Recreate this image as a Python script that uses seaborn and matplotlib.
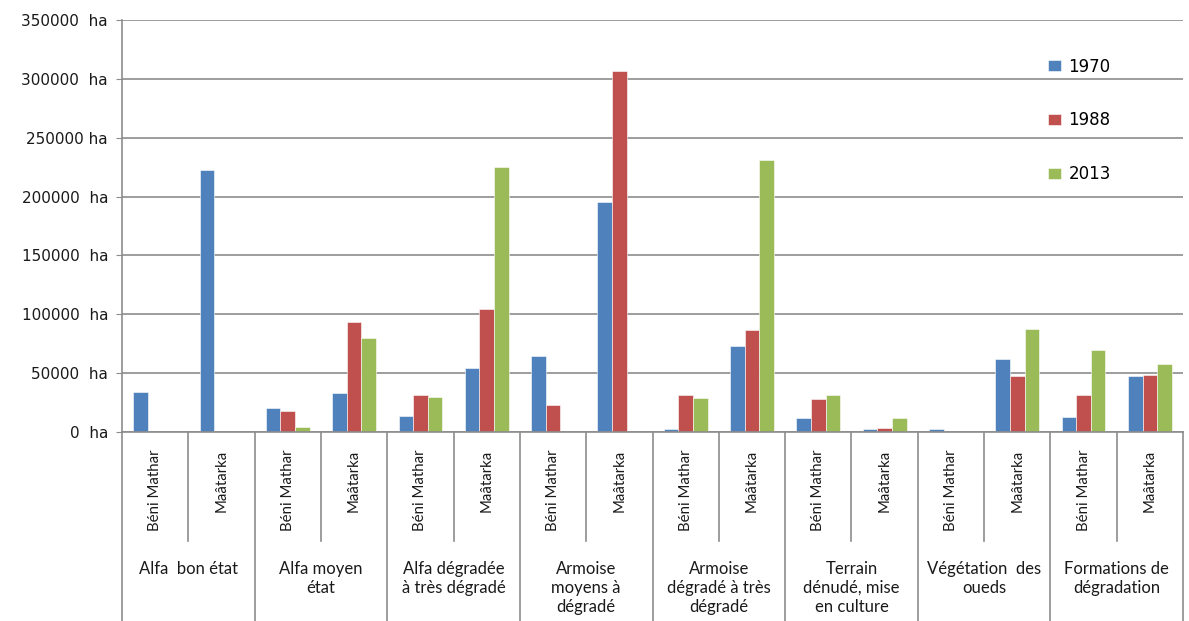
import matplotlib
matplotlib.use("Agg")
import matplotlib.pyplot as plt
import matplotlib.transforms as mtransforms
import pandas as pd
import seaborn as sns

# Land cover classes (multi-level x axis) and the two sites in each
groups = [
    "Alfa  bon état",
    "Alfa moyen\nétat",
    "Alfa dégradée\nà très dégradé",
    "Armoise\nmoyens à\ndégradé",
    "Armoise\ndégradé à très\ndégradé",
    "Terrain\ndénudé, mise\nen culture",
    "Végétation  des\noueds",
    "Formations de\ndégradation",
]
sites = ["Béni Mathar", "Maâtarka"]
years = ["1970", "1988", "2013"]

# surface in ha, one value per (class, site) slot
ha_1970 = [34000, 223000, 20000, 32800, 13800, 54800, 65000, 195800,
           2200, 72700, 11900, 2200, 2200, 62000, 13000, 47500]
ha_1988 = [0, 0, 17800, 93600, 31700, 104100, 23200, 307000,
           31700, 86300, 27700, 3400, 0, 47500, 31700, 48700]
ha_2013 = [0, 0, 4500, 80000, 29700, 225000, 0, 0,
           28500, 231400, 31700, 11900, 0, 87400, 69600, 58000]

ytick_values = [0, 50000, 100000, 150000, 200000, 250000, 300000, 350000]
ytick_labels = ["0  ha", "50000  ha", "100000  ha", "150000  ha",
                "200000  ha", "250000 ha", "300000  ha", "350000  ha"]

colors = ["#4F81BD", "#C0504D", "#9BBB59"]
grid_color = "#8c8c8c"

slots = [f"{g}|{s}" for g in groups for s in sites]
rows = []
for year, vals in zip(years, [ha_1970, ha_1988, ha_2013]):
    for slot, v in zip(slots, vals):
        rows.append({"slot": slot, "year": year, "ha": v})
df = pd.DataFrame(rows)

fig = plt.figure(figsize=(11.89, 6.21), dpi=100)
ax = fig.add_axes([0.1026, 0.3043, 0.8924, 0.6635])

sns.barplot(data=df, x="slot", y="ha", hue="year", order=slots,
            hue_order=years, palette=colors, saturation=1, width=0.66,
            gap=0, edgecolor="white", linewidth=0.4, ax=ax)

ax.set_xlim(-0.5, len(slots) - 0.5)
ax.set_ylim(0, 350000)
ax.set_xlabel("")
ax.set_ylabel("")
ax.tick_params(axis="x", length=0, labelbottom=False)
ax.set_yticks(ytick_values)
ax.set_yticklabels(ytick_labels, fontsize=11, color="#1a1a1a",
                   family="DejaVu Sans")
ax.tick_params(axis="y", length=4, color=grid_color, pad=6)

ax.yaxis.grid(True, color=grid_color, linewidth=1.2)
ax.set_axisbelow(True)
for side in ["top", "right"]:
    ax.spines[side].set_visible(False)
for side in ["left", "bottom"]:
    ax.spines[side].set_color(grid_color)
    ax.spines[side].set_linewidth(1.2)

# multi-level category axis drawn under the plot
trans = mtransforms.blended_transform_factory(ax.transData, ax.transAxes)
bottom_long = -0.46
bottom_short = -0.265
for i in range(len(slots) + 1):
    x = i - 0.5
    y_end = bottom_long if i % 2 == 0 else bottom_short
    ax.plot([x, x], [0, y_end], transform=trans, clip_on=False,
            color=grid_color, linewidth=1.2)

for i, slot in enumerate(slots):
    ax.text(i, -0.042, slot.split("|")[1], transform=trans, rotation=90,
            ha="center", va="top", fontsize=10.8, family="Lato",
            color="#1a1a1a")

for j, g in enumerate(groups):
    ax.text(2 * j + 0.5, -0.312, g, transform=trans, ha="center", va="top",
            fontsize=12, family="Lato", color="#1a1a1a", linespacing=1.25)

ax.legend(loc="upper left", bbox_to_anchor=(0.859, 0.945), frameon=False,
          prop={"family": "DejaVu Sans", "size": 12}, labelspacing=2.15,
          handlelength=0.75, handleheight=0.65, handletextpad=0.45)

fig.savefig("out.png", dpi=100)
